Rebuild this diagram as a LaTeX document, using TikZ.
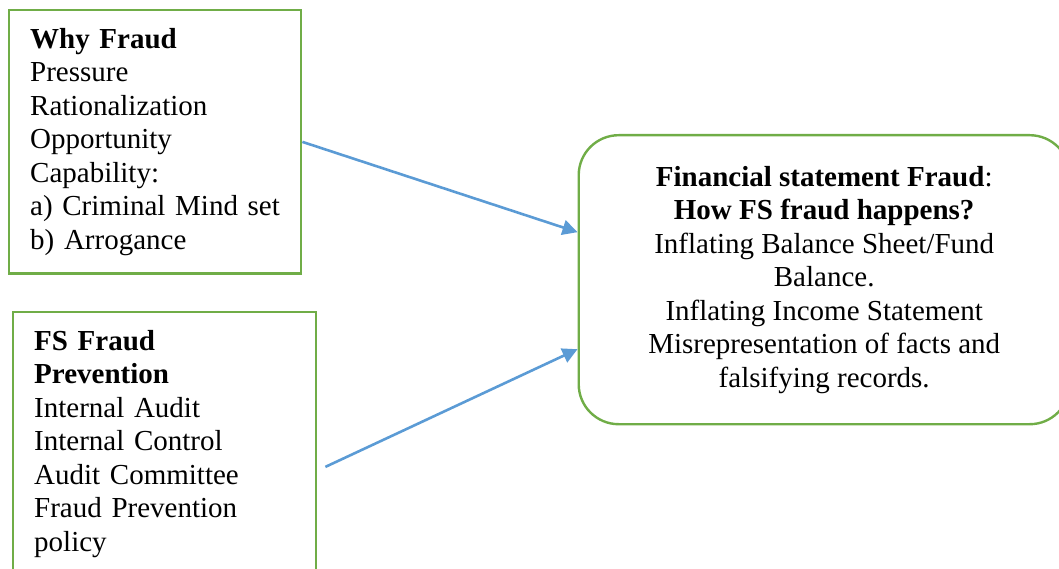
\documentclass[tikz,border=0pt]{standalone}
\usepackage{fontspec}
\setmainfont{Liberation Serif}
\usetikzlibrary{arrows.meta}
\definecolor{boxgreen}{RGB}{112,173,71}
\definecolor{arrowblue}{RGB}{91,155,213}
\begin{document}
\begin{tikzpicture}[x=1pt,y=-1pt,
        box/.style={draw=boxgreen,line width=2.4pt,font=\fontsize{29}{33.5}\selectfont,inner ysep=18pt},
        link/.style={draw=arrowblue,line width=2.6pt,-{Triangle[length=15pt,width=15pt]}}]
        \useasboundingbox (0,0) rectangle (1059,569);
        \clip (0,0) rectangle (1059,569);
        \node[box,anchor=north west,text width=250pt,inner xsep=21pt,align=left] (why) at (8,9)
            {\textbf{Why Fraud}\\Pressure\\Rationalization\\Opportunity\\Capability:\\a) Criminal Mind set\\b) Arrogance};
        \node[box,anchor=north west,text width=261pt,inner xsep=21pt,align=left] (prev) at (12,311)
            {\textbf{FS Fraud}\\\textbf{Prevention}\\Internal Audit\\Internal Control\\Audit Committee\\Fraud Prevention\\policy};
        \node[box,anchor=north west,rounded corners=40pt,minimum width=491pt,minimum height=289pt,inner ysep=0pt,align=center] (fsf) at (577.5,134)
            {\textbf{Financial statement Fraud}:\\\textbf{How FS fraud happens?}\\Inflating Balance Sheet/Fund\\Balance.\\Inflating Income Statement\\Misrepresentation of facts and\\falsifying records.};
        \coordinate (pstart) at ([xshift=8pt,yshift=-23pt]prev.east);
        \draw[link] (why.east) to ([yshift=47.5pt]fsf.west);
        \draw[link] (pstart) to ([yshift=-69.5pt]fsf.west);
    \end{tikzpicture}
\end{document}
